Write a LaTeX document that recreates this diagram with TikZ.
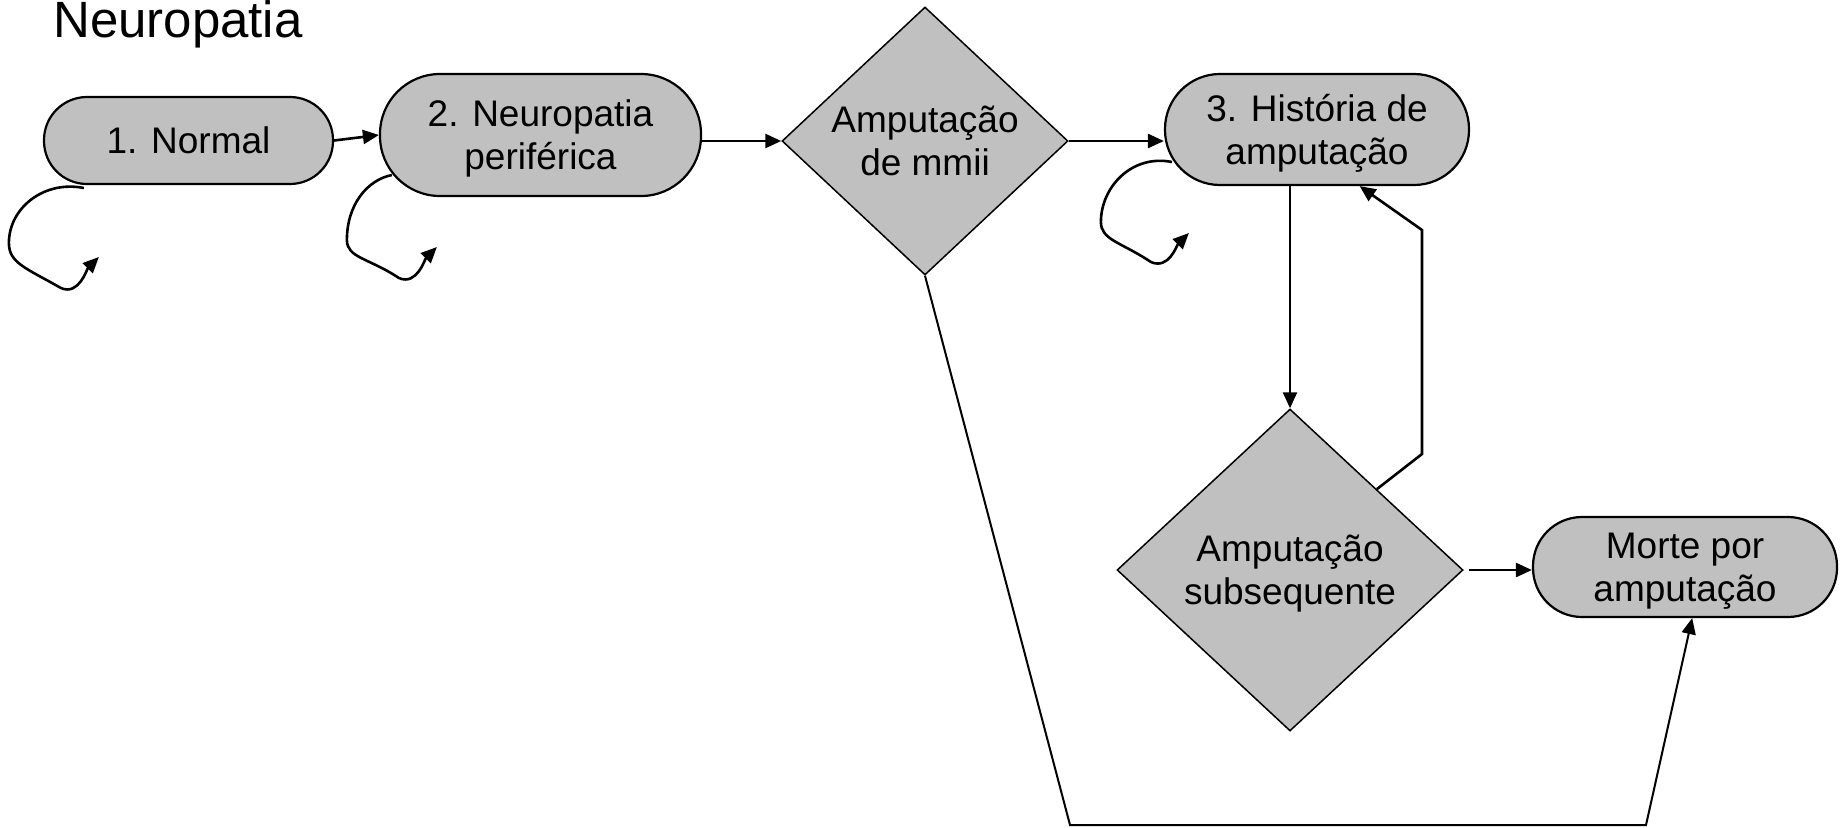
\documentclass[tikz,border=0pt]{standalone}
\usepackage{fontspec}
\setmainfont{Liberation Sans}
\usetikzlibrary{shapes.geometric,arrows.meta}
\definecolor{boxgray}{RGB}{192,192,192}
\tikzset{
  state/.style={rectangle, draw, fill=boxgray, line width=2.2pt, inner sep=0pt, align=center,
    text depth=0pt, font=\fontsize{37}{43}\selectfont},
  decision/.style={diamond, draw, fill=boxgray, line width=1.5pt, inner sep=0pt, shape aspect=1.07,
    align=center, text depth=0pt, font=\fontsize{37}{43}\selectfont},
  arr/.style={-{Triangle[length=16pt,width=14pt]}, line width=2.6pt},
}

\begin{document}
\begin{tikzpicture}[x=1pt,y=-1pt]
\useasboundingbox (0,0) rectangle (1843,827);
\node[anchor=base west, inner sep=0pt, font=\fontsize{51}{60}\selectfont] (title) at (53,37) {Neuropatia};

\node[state, rounded corners=43pt, minimum width=289pt, minimum height=87pt] (normal) at (188.5,140.5) {1. Normal};
\node[state, rounded corners=60pt, minimum width=321pt, minimum height=122pt] (neuro) at (540.5,135) {2. Neuropatia\\periférica};
\node[decision, minimum width=286pt, minimum height=268pt] (amp) at (925,141) {Amputação\\de mmii};
\node[state, rounded corners=55pt, minimum width=304pt, minimum height=111pt] (hist) at (1317,129.5) {3. História de\\amputação};
\node[decision, minimum width=346pt, minimum height=322pt] (subs) at (1290,570) {Amputação\\subsequente};
\node[state, rounded corners=49pt, minimum width=304pt, minimum height=100pt] (morte) at (1685,567) {Morte por\\amputação};

\coordinate (fbA) at (1422,454);
\coordinate (fbB) at (1422,230);
\coordinate (botL) at (1070,825);
\coordinate (botR) at (1646,825);

\draw[arr] (normal.east) -- (neuro.west);
\draw[arr] (neuro.east |- amp.west) -- (amp.west);
\draw[arr] (amp.east) -- (amp.east -| hist.west);
\draw[arr] (subs.north |- hist.south) -- (subs.north);
\draw[arr] (subs.north east) -- (fbA) -- (fbB) -- (hist.-53);
\draw[arr, shorten <=5pt] (subs.east) -- (subs.east -| morte.west);
\draw[arr, line width=2pt] (amp.south) -- (botL) -- (botR) -- (morte.-82);

\draw[arr] ([shift={(41,47.5)}]normal.west) .. controls +(-40,-8) and +(0,-35) .. ++(-75,55)
  .. controls +(0,20) and +(-35,-20) .. ++(52,45) .. controls +(18,8) and +(-12,12) .. ++(38,-31);
\draw[arr] ([shift={(13,40)}]neuro.west) .. controls +(-25,5) and +(0,-35) .. ++(-45,65)
  .. controls +(0,18) and +(-30,-20) .. ++(52,38) .. controls +(18,8) and +(-12,12) .. ++(38,-31);
\draw[arr] ([shift={(8,32.5)}]hist.west) .. controls +(-40,-8) and +(0,-35) .. ++(-71,60)
  .. controls +(0,18) and +(-30,-20) .. ++(50,40) .. controls +(18,8) and +(-12,12) .. ++(38,-29);
\end{tikzpicture}
\end{document}
